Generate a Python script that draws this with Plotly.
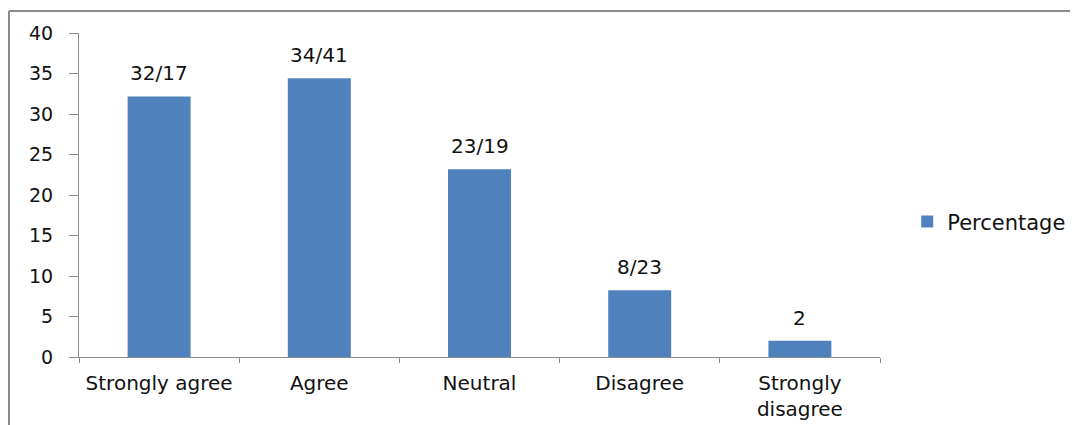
import plotly.graph_objects as go

categories = ["Strongly agree", "Agree", "Neutral", "Disagree", "Strongly<br>disagree"]
values = [32.17, 34.41, 23.19, 8.23, 2]
value_labels = ["32/17", "34/41", "23/19", "8/23", "2"]
y_ticks = [0, 5, 10, 15, 20, 25, 30, 35, 40]

FONT = "DejaVu Sans"
TXT = "#111111"
fig = go.Figure()
fig.add_trace(go.Bar(
    x=categories, y=values, name="Percentage",
    marker=dict(color="#4F81BD", line=dict(width=0)),
))
for c, v, t in zip(categories, values, value_labels):
    fig.add_annotation(x=c, y=v, text=t, showarrow=False, yanchor="bottom",
                       yshift=9, font=dict(family=FONT, size=20, color=TXT))

fig.update_layout(
    width=1078, height=425,
    margin=dict(l=71, r=206, t=25, b=76),
    paper_bgcolor="white", plot_bgcolor="white",
    bargap=0.607,
    showlegend=True,
    legend=dict(x=1.034, y=0.417, xanchor="left", yanchor="middle",
                font=dict(family=FONT, size=21, color=TXT)),
    font=dict(family=FONT, size=19, color=TXT),
)
fig.update_xaxes(showline=True, linecolor="#8c8c8c", linewidth=1,
                 ticks="outside", tickson="boundaries", ticklen=5, tickcolor="#8c8c8c",
                 showgrid=False, ticklabelstandoff=8,
                 tickfont=dict(family=FONT, size=20, color=TXT))
fig.update_yaxes(range=[0, 40], tickvals=y_ticks, showline=True, linecolor="#8c8c8c",
                 linewidth=1, ticks="outside", ticklen=9, tickcolor="#8c8c8c",
                 showgrid=False, zeroline=False, ticklabelstandoff=12,
                 tickfont=dict(family=FONT, size=19, color=TXT))
# outer chart border (left and top)
fig.add_shape(type="line", xref="paper", yref="paper", x0=-0.0874, x1=1.3, y0=1.068, y1=1.068,
              line=dict(color="#8a8a8a", width=2))
fig.add_shape(type="line", xref="paper", yref="paper", x0=-0.0874, x1=-0.0874, y0=1.068, y1=-0.3,
              line=dict(color="#8a8a8a", width=2))
fig.write_html("out.html")
